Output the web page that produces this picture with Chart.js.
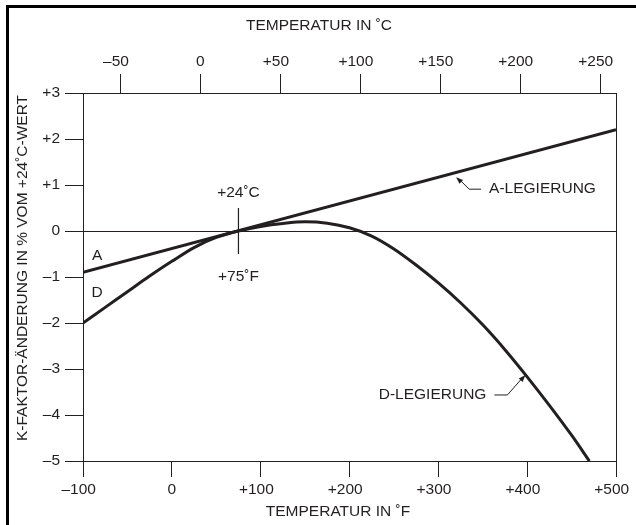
<!DOCTYPE html>
<html>
<head>
<meta charset="utf-8">
<script src="https://cdn.jsdelivr.net/npm/chart.js@4.4.1/dist/chart.umd.min.js"></script>
<style>
    body { margin: 0; background: #fff; }
    #wrap { position: relative; width: 636px; height: 525px; overflow: hidden; }
    #wrap canvas { position: absolute; left: 0; top: 0; }
    #frame { position: absolute; left: 6px; top: 5px; right: -10px; bottom: -10px;
             border-left: 3px solid #000; border-top: 3px solid #000; pointer-events: none; }
</style>
</head>
<body>
<div id="wrap">
    <canvas id="kfaktor" width="636" height="525"></canvas>
    <div id="frame"></div>
</div>
<script>
// Achsen
var fahrenheitTicks = [-100, 0, 100, 200, 300, 400, 500];
var celsiusTicks = [-50, 0, 50, 100, 150, 200, 250];
var percentTicks = [-5, -4, -3, -2, -1, 0, 1, 2, 3];

// A-Legierung (Gerade)
var alloyA_F = [-100, 500];
var alloyA_pct = [-0.9, 2.2];

// D-Legierung
var alloyD_F = [-100, -75, -50, -25, 0, 25, 50, 75, 100, 125, 150, 175, 200,
                225, 250, 275, 300, 325, 350, 375, 400, 425, 450, 470];
var alloyD_pct = [-2.0, -1.66, -1.32, -0.98, -0.66, -0.36, -0.14, 0.0, 0.10, 0.165, 0.20, 0.17, 0.07,
                  -0.11, -0.39, -0.74, -1.13, -1.56, -2.04, -2.58, -3.17, -3.79, -4.44, -5.0];

// Bezugspunkt +24°C / +75°F
var refMark_F = [75, 75];
var refMark_pct = [0.5, -0.5];

var ink = '#231f20';
var fontFamily = '"Liberation Sans", Arial, Helvetica, sans-serif';
var fontSize = 15.5;

function toC(f) {
    return (f - 32) / 1.8;
}

function points(xs, ys) {
    return xs.map(function(x, i) { return { x: x, y: ys[i] }; });
}

// Vorzeichen wie im Original: +100, 0, –100
function signed(v, pad) {
    var s = v > 0 ? '+' + v : (v < 0 ? '\u2013' + Math.abs(v) : '0');
    if (pad && v !== 0) {
        s = s + '  ';
    }
    return s;
}

function fixedTicks(list) {
    return function(scale) {
        scale.ticks = list.map(function(v) { return { value: v }; });
    };
}

function arrowHead(ctx, fromX, fromY, toX, toY) {
    var a = Math.atan2(toY - fromY, toX - fromX);
    var len = 7, half = 2.6;
    ctx.beginPath();
    ctx.moveTo(toX, toY);
    ctx.lineTo(toX - len * Math.cos(a) + half * Math.sin(a), toY - len * Math.sin(a) - half * Math.cos(a));
    ctx.lineTo(toX - len * Math.cos(a) - half * Math.sin(a), toY - len * Math.sin(a) + half * Math.cos(a));
    ctx.closePath();
    ctx.fill();
}

var labelsPlugin = {
    id: 'beschriftung',
    afterDraw: function(chart) {
        var ctx = chart.ctx;
        var xs = chart.scales.x;
        var ys = chart.scales.y;
        ctx.save();
        ctx.fillStyle = ink;
        ctx.strokeStyle = ink;
        ctx.font = fontSize + 'px ' + fontFamily;
        ctx.textBaseline = 'middle';
        ctx.textAlign = 'center';

        // Achsentitel
        ctx.fillText('TEMPERATUR IN \u02DAC', 319, 26);
        ctx.fillText('TEMPERATUR IN \u02DAF', 338, 512);
        ctx.save();
        ctx.translate(23, 268);
        ctx.rotate(-Math.PI / 2);
        ctx.fillText('K-FAKTOR-\u00C4NDERUNG IN % VOM +24\u02DAC-WERT', 0, 0);
        ctx.restore();

        // Bezugspunkt
        var px = xs.getPixelForValue(75);
        var py = ys.getPixelForValue(0);
        ctx.fillText('+24\u02DAC', px, py - 38);
        ctx.fillText('+75\u02DAF', px, py + 46);

        // Kurzbezeichnung am linken Rand
        ctx.fillText('A', xs.getPixelForValue(-84), ys.getPixelForValue(-0.54));
        ctx.fillText('D', xs.getPixelForValue(-84), ys.getPixelForValue(-1.35));

        // A-LEGIERUNG mit Pfeil
        ctx.lineWidth = 1;
        var ax = xs.getPixelForValue(320), ay = ys.getPixelForValue(1.17);
        ctx.beginPath();
        ctx.moveTo(ax + 25, ay + 12);
        ctx.lineTo(ax + 13, ay + 12);
        ctx.lineTo(ax + 3, ay + 2);
        ctx.stroke();
        arrowHead(ctx, ax + 13, ay + 12, ax, ay);
        ctx.textAlign = 'left';
        ctx.fillText('A-LEGIERUNG', ax + 33, ay + 12);

        // D-LEGIERUNG mit Pfeil
        var dx = xs.getPixelForValue(398), dy = ys.getPixelForValue(-3.13);
        ctx.beginPath();
        ctx.moveTo(dx - 31, dy + 20);
        ctx.lineTo(dx - 18, dy + 20);
        ctx.lineTo(dx - 3, dy + 3);
        ctx.stroke();
        arrowHead(ctx, dx - 18, dy + 20, dx, dy);
        ctx.textAlign = 'right';
        ctx.fillText('D-LEGIERUNG', dx - 39, dy + 20);

        // Rahmen des Diagramms
        var area = chart.chartArea;
        ctx.lineWidth = 1;
        ctx.strokeRect(Math.round(area.left) + 0.5, Math.round(area.top) + 0.5,
                       Math.round(area.right - area.left), Math.round(area.bottom - area.top));
        ctx.restore();
    }
};

document.addEventListener('DOMContentLoaded', function() {
    Chart.defaults.font.family = fontFamily;
    Chart.defaults.font.size = fontSize;
    Chart.defaults.color = ink;

    var ctx = document.getElementById('kfaktor').getContext('2d');
    var chart = new Chart(ctx, {
        type: 'line',
        data: {
            datasets: [{
                label: 'A-LEGIERUNG',
                data: points(alloyA_F, alloyA_pct),
                borderColor: ink,
                borderWidth: 3,
                pointRadius: 0,
                tension: 0
            }, {
                label: 'D-LEGIERUNG',
                data: points(alloyD_F, alloyD_pct),
                borderColor: ink,
                borderWidth: 3,
                pointRadius: 0,
                cubicInterpolationMode: 'monotone'
            }, {
                label: '+24 C',
                data: points(refMark_F, refMark_pct),
                borderColor: ink,
                borderWidth: 1.2,
                pointRadius: 0
            }]
        },
        options: {
            responsive: false,
            animation: false,
            devicePixelRatio: 1,
            layout: {
                padding: { left: 8, top: 8, right: 20, bottom: 0 }
            },
            plugins: {
                legend: { display: false },
                tooltip: { enabled: false }
            },
            scales: {
                x: {
                    type: 'linear',
                    position: 'bottom',
                    min: -100,
                    max: 500,
                    afterBuildTicks: fixedTicks(fahrenheitTicks),
                    afterFit: function(s) {
                        s.height = 64;
                        s.paddingLeft = 0;
                        s.paddingRight = 0;
                    },
                    grid: { drawOnChartArea: false, tickLength: 16, color: ink, lineWidth: 1 },
                    border: { display: true, color: ink, width: 1 },
                    ticks: {
                        padding: 3,
                        maxRotation: 0,
                        autoSkip: false,
                        callback: function(v) { return signed(v, true); }
                    }
                },
                xC: {
                    type: 'linear',
                    position: 'top',
                    min: toC(-100),
                    max: toC(500),
                    afterBuildTicks: fixedTicks(celsiusTicks),
                    afterFit: function(s) {
                        s.height = 85;
                        s.paddingLeft = 0;
                        s.paddingRight = 0;
                    },
                    grid: { drawOnChartArea: false, tickLength: 19, color: ink, lineWidth: 1 },
                    border: { display: true, color: ink, width: 1 },
                    ticks: {
                        padding: 3,
                        maxRotation: 0,
                        autoSkip: false,
                        callback: function(v) { return signed(v, true); }
                    }
                },
                y: {
                    type: 'linear',
                    min: -5,
                    max: 3,
                    afterBuildTicks: fixedTicks(percentTicks),
                    afterFit: function(s) {
                        s.width = 75;
                        s.paddingTop = 0;
                        s.paddingBottom = 0;
                    },
                    grid: {
                        tickLength: 18,
                        tickColor: ink,
                        lineWidth: 1,
                        color: function(c) {
                            return (c.tick && c.tick.value === 0) ? ink : 'rgba(0,0,0,0)';
                        }
                    },
                    border: { display: true, color: ink, width: 1 },
                    ticks: {
                        padding: 5,
                        autoSkip: false,
                        callback: function(v) { return signed(v, false); }
                    }
                }
            }
        },
        plugins: [labelsPlugin]
    });
});
</script>
</body>
</html>
